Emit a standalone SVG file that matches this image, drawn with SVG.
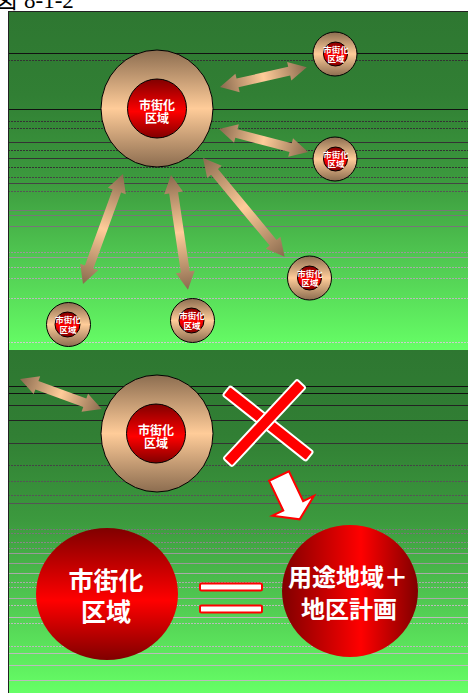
<svg xmlns="http://www.w3.org/2000/svg" width="468" height="693" viewBox="0 0 468 693">
<defs>
<linearGradient id="bg" x1="0" y1="0" x2="0" y2="1">
<stop offset="0" stop-color="#2e7731"/><stop offset="0.25" stop-color="#317f34"/><stop offset="0.5" stop-color="#3c9a3e"/><stop offset="0.75" stop-color="#52cc53"/><stop offset="1" stop-color="#66ff66"/>
</linearGradient>
<linearGradient id="tan" x1="0" y1="0" x2="0" y2="1">
<stop offset="0" stop-color="#8c6d50"/><stop offset="0.5" stop-color="#ffcc99"/><stop offset="1" stop-color="#8c6d50"/>
</linearGradient>
<linearGradient id="red" x1="0" y1="0" x2="0" y2="1">
<stop offset="0" stop-color="#800000"/><stop offset="0.55" stop-color="#ff0000"/><stop offset="1" stop-color="#800000"/>
</linearGradient>
<linearGradient id="redH" x1="0" y1="0" x2="1" y2="0">
<stop offset="0" stop-color="#800000"/><stop offset="0.58" stop-color="#ff0000"/><stop offset="1" stop-color="#800000"/>
</linearGradient>
<linearGradient id="tanArrow" x1="0" y1="0" x2="1" y2="0">
<stop offset="0" stop-color="#8a6a4e"/><stop offset="0.5" stop-color="#ffcc99"/><stop offset="1" stop-color="#8a6a4e"/>
</linearGradient>
</defs>
<style>
.panel{fill:url(#bg)}
.ln{stroke-width:1}
.d{stroke-dasharray:2 1}
.outer{fill:url(#tan);stroke:#000;stroke-width:1}
.inner{fill:url(#red);stroke:#000;stroke-width:1}
.lbl{font-family:"Noto Sans CJK JP",sans-serif;font-weight:bold;fill:#fff;text-anchor:middle}
.s{font-size:8.5px}
.m{font-size:12px}
.b{font-size:25px}
.arr{fill:url(#tanArrow)}
.bar{fill:#ff0000;stroke:#fff;stroke-width:2}
.eq{fill:#fff;stroke:#ff0000;stroke-width:2}
</style>
<text x="-6" y="8" font-family="Liberation Serif,Noto Sans CJK JP,serif" font-size="23" fill="#000">図<tspan x="24">8-1-2</tspan></text>
<g id="background">
<rect class="panel" x="8" y="11" width="460" height="339"/>
<rect class="panel" x="8" y="350" width="460" height="343"/>
<g class="ln">
<line x1="8" x2="468" y1="53.5" y2="53.5" stroke="#111"/>
<line x1="8" x2="468" y1="60.5" y2="60.5" stroke="#333" class="d"/>
<line x1="8" x2="468" y1="109.5" y2="109.5" stroke="#111"/>
<line x1="8" x2="468" y1="121.5" y2="121.5" stroke="#333" class="d"/>
<line x1="8" x2="468" y1="128.5" y2="128.5" stroke="#333" class="d"/>
<line x1="8" x2="468" y1="142.5" y2="142.5" stroke="#333"/>
<line x1="8" x2="468" y1="150.5" y2="150.5" stroke="#333" class="d"/>
<line x1="8" x2="468" y1="158.5" y2="158.5" stroke="#333"/>
<line x1="8" x2="468" y1="167.5" y2="167.5" stroke="#333" class="d"/>
<line x1="8" x2="468" y1="177.5" y2="177.5" stroke="#444" class="d"/>
<line x1="8" x2="468" y1="183.5" y2="183.5" stroke="#444"/>
<line x1="8" x2="468" y1="191.5" y2="191.5" stroke="#555" class="d"/>
<line x1="8" x2="468" y1="210.5" y2="210.5" stroke="#777"/>
<line x1="8" x2="468" y1="215.5" y2="215.5" stroke="#777"/>
<line x1="8" x2="468" y1="226.5" y2="226.5" stroke="#777"/>
<line x1="8" x2="468" y1="252.5" y2="252.5" stroke="#999" class="d"/>
<line x1="8" x2="468" y1="257.5" y2="257.5" stroke="#999"/>
<line x1="8" x2="468" y1="267.5" y2="267.5" stroke="#aaa" class="d"/>
<line x1="8" x2="468" y1="278.5" y2="278.5" stroke="#aaa" class="d"/>
<line x1="8" x2="468" y1="298.5" y2="298.5" stroke="#bbb" class="d"/>
<line x1="8" x2="468" y1="342.5" y2="342.5" stroke="#ccc" class="d"/>
<line x1="8" x2="468" y1="386.5" y2="386.5" stroke="#111"/>
<line x1="8" x2="468" y1="393.5" y2="393.5" stroke="#111"/>
<line x1="8" x2="468" y1="405.5" y2="405.5" stroke="#222"/>
<line x1="8" x2="468" y1="420.5" y2="420.5" stroke="#222"/>
<line x1="8" x2="468" y1="443.5" y2="443.5" stroke="#333"/>
<line x1="8" x2="468" y1="465.5" y2="465.5" stroke="#444" class="d"/>
<line x1="8" x2="468" y1="481.5" y2="481.5" stroke="#555" class="d"/>
<line x1="8" x2="468" y1="495.5" y2="495.5" stroke="#555" class="d"/>
<line x1="8" x2="468" y1="503.5" y2="503.5" stroke="#555"/>
<line x1="8" x2="468" y1="529.5" y2="529.5" stroke="#777" class="d"/>
<line x1="8" x2="468" y1="533.5" y2="533.5" stroke="#777" class="d"/>
<line x1="8" x2="468" y1="542.5" y2="542.5" stroke="#888" class="d"/>
<line x1="8" x2="468" y1="548.5" y2="548.5" stroke="#888" class="d"/>
<line x1="8" x2="468" y1="553.5" y2="553.5" stroke="#999"/>
<line x1="8" x2="468" y1="563.5" y2="563.5" stroke="#999"/>
<line x1="8" x2="468" y1="573.5" y2="573.5" stroke="#aaa"/>
<line x1="8" x2="468" y1="582.5" y2="582.5" stroke="#aaa" class="d"/>
<line x1="8" x2="468" y1="587.5" y2="587.5" stroke="#aaa" class="d"/>
<line x1="8" x2="468" y1="598.5" y2="598.5" stroke="#aaa"/>
<line x1="8" x2="468" y1="605.5" y2="605.5" stroke="#bbb" class="d"/>
<line x1="8" x2="468" y1="617.5" y2="617.5" stroke="#bbb"/>
<line x1="8" x2="468" y1="623.5" y2="623.5" stroke="#bbb" class="d"/>
<line x1="8" x2="468" y1="646.5" y2="646.5" stroke="#bbb" class="d"/>
<line x1="8" x2="468" y1="653.5" y2="653.5" stroke="#bbb"/>
<line x1="8" x2="468" y1="665.5" y2="665.5" stroke="#bbb"/>
<line x1="8" x2="468" y1="680.5" y2="680.5" stroke="#bbb"/>
</g>
<line x1="8" x2="468" y1="11.5" y2="11.5" stroke="#222"/>
<line x1="8.5" x2="8.5" y1="11" y2="693" stroke="#222"/>
</g>
<g id="connectors">
<path class="arr" transform="translate(220,87) rotate(-12.9)" d="M0,0 L18,-9.5 L18,-4.5 L71,-4.5 L71,-9.5 L89,0 L71,9.5 L71,4.5 L18,4.5 L18,9.5 Z"/>
<path class="arr" transform="translate(219,129) rotate(14.5)" d="M0,0 L18,-9.5 L18,-4.5 L74,-4.5 L74,-9.5 L92,0 L74,9.5 L74,4.5 L18,4.5 L18,9.5 Z"/>
<path class="arr" transform="translate(203,158) rotate(50.4)" d="M0,0 L18,-9.5 L18,-4.5 L110,-4.5 L110,-9.5 L128,0 L110,9.5 L110,4.5 L18,4.5 L18,9.5 Z"/>
<path class="arr" transform="translate(123,174) rotate(110)" d="M0,0 L18,-9.5 L18,-4.5 L99,-4.5 L99,-9.5 L117,0 L99,9.5 L99,4.5 L18,4.5 L18,9.5 Z"/>
<path class="arr" transform="translate(171,175) rotate(81.6)" d="M0,0 L18,-9.5 L18,-4.5 L98,-4.5 L98,-9.5 L116,0 L98,9.5 L98,4.5 L18,4.5 L18,9.5 Z"/>
<path class="arr" transform="translate(20,379) rotate(20.1)" d="M0,0 L18,-9.5 L18,-4.5 L69,-4.5 L69,-9.5 L87,0 L69,9.5 L69,4.5 L18,4.5 L18,9.5 Z"/>
<path transform="translate(279,476) rotate(-25.5)" d="M-11,0 L11,0 L11,33 L23,33 L0,48 L-23,33 L-11,33 Z" fill="#fff" stroke="#ff0000" stroke-width="2" stroke-linejoin="miter"/>
</g>
<g id="node-main1">
<ellipse class="outer" cx="157" cy="108.5" rx="56" ry="58.5"/>
<circle class="inner" cx="157" cy="108.5" r="29.5"/>
<text class="lbl m" x="157" y="110">市街化</text>
<text class="lbl m" x="157" y="123">区域</text>
</g>
<g id="node-s1">
<ellipse class="outer" cx="335" cy="54" rx="22" ry="22"/>
<circle class="inner" cx="335.5" cy="54" r="12"/>
<text class="lbl s" x="336" y="52.5">市街化</text>
<text class="lbl s" x="336" y="62">区域</text>
</g>
<g id="node-s2">
<ellipse class="outer" cx="335" cy="159" rx="22" ry="22"/>
<circle class="inner" cx="335.5" cy="159" r="12"/>
<text class="lbl s" x="336" y="157.5">市街化</text>
<text class="lbl s" x="336" y="167">区域</text>
</g>
<g id="node-s3">
<ellipse class="outer" cx="309.5" cy="278" rx="22" ry="22"/>
<circle class="inner" cx="309.5" cy="278" r="12"/>
<text class="lbl s" x="310" y="276.5">市街化</text>
<text class="lbl s" x="310" y="286">区域</text>
</g>
<g id="node-s4">
<ellipse class="outer" cx="68.5" cy="324.5" rx="22" ry="22"/>
<circle class="inner" cx="67.5" cy="324.5" r="12.5"/>
<text class="lbl s" x="68" y="323">市街化</text>
<text class="lbl s" x="68" y="332.5">区域</text>
</g>
<g id="node-s5">
<ellipse class="outer" cx="192.5" cy="320.5" rx="22" ry="22"/>
<circle class="inner" cx="191.5" cy="320.5" r="12.5"/>
<text class="lbl s" x="192" y="319">市街化</text>
<text class="lbl s" x="192" y="328.5">区域</text>
</g>
<g id="node-main2">
<ellipse class="outer" cx="157" cy="433.5" rx="56" ry="58.5"/>
<circle class="inner" cx="156" cy="433.5" r="29.5"/>
<text class="lbl m" x="156" y="435">市街化</text>
<text class="lbl m" x="156" y="448">区域</text>
</g>
<g id="node-cross">
<rect class="bar" x="-53" y="-6" width="106" height="12" rx="2" transform="translate(268,423.5) rotate(38.4)"/>
<rect class="bar" x="-54" y="-6" width="108" height="12" rx="2" transform="translate(264.5,423) rotate(-47)"/>
</g>
<g id="node-bottom-left">
<ellipse cx="107" cy="594" rx="71" ry="66" fill="url(#red)"/>
<text class="lbl b" x="106" y="590">市街化</text>
<text class="lbl b" x="106" y="621">区域</text>
</g>
<g id="node-equals">
<rect class="eq" x="200" y="583.5" width="62" height="7" rx="1.5"/>
<rect class="eq" x="200" y="605.5" width="62" height="7" rx="1.5"/>
</g>
<g id="node-bottom-right">
<ellipse cx="350" cy="591" rx="68" ry="66" fill="url(#redH)"/>
<text class="lbl" x="348" y="586" font-size="24">用途地域＋</text>
<text class="lbl" x="349" y="618" font-size="24">地区計画</text>
</g>
</svg>
